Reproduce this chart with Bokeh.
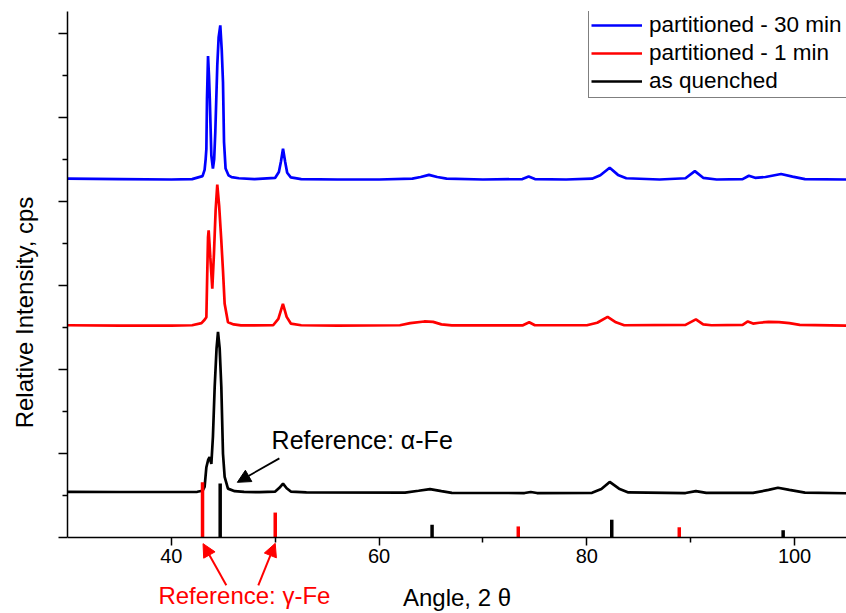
from bokeh.plotting import figure
from bokeh.models import Range1d, FixedTicker, Label, Arrow, NormalHead, LinearAxis
from bokeh.embed import file_html
from bokeh.resources import INLINE

# ---------------- data ----------------
blue_x = [30, 35, 40, 42, 43.0, 43.2, 43.3, 43.37, 43.43, 43.53, 43.62, 43.7, 43.85, 44.0,
          44.12, 44.23, 44.42, 44.55, 44.71, 44.85, 44.97, 45.07, 45.22, 45.5, 45.8, 46.5,
          48, 50.0, 50.35, 50.55, 50.75, 50.95, 51.15, 51.5, 52.5, 56, 60, 63.2, 64.0, 64.8,
          65.6, 66.5, 70, 73.8, 74.4, 75.0, 78, 80.5, 81.3, 82.2, 83.0, 83.8, 87, 89.5, 90.4,
          91.2, 92.5, 95, 95.6, 96.2, 97.2, 98.7, 99.8, 101, 105]
blue_y = [8540, 8530, 8520, 8530, 8600, 8750, 9000, 9250, 10440, 11460, 11000, 10440, 9090, 8780,
          9000, 9650, 11230, 11900, 12190, 11600, 10840, 9410, 8780, 8620, 8575, 8550,
          8530, 8560, 8700, 8950, 9250, 8950, 8680, 8570, 8530, 8520, 8520, 8540, 8580, 8630,
          8580, 8540, 8520, 8530, 8590, 8530, 8520, 8540, 8620, 8800, 8630, 8550, 8520, 8550, 8720,
          8560, 8520, 8530, 8610, 8560, 8580, 8650, 8590, 8530, 8520]

red_x = [30, 35, 40, 42, 42.9, 43.2, 43.37, 43.46, 43.53, 43.59, 43.67, 43.75, 43.94, 44.1,
         44.26, 44.42, 44.6, 44.8, 44.97, 45.13, 45.45, 46, 46.7, 49.8, 50.3, 50.74, 51.1, 51.5,
         52.5, 56, 62.0, 63, 64.35, 65.2, 66.0, 67, 73.8, 74.45, 75, 80, 81, 82.0, 82.8, 83.6,
         89.5, 90.5, 91.2, 92, 95, 95.5, 96.0, 96.6, 97.5, 98.5, 99.5, 100.5, 105]
red_y = [5050, 5040, 5040, 5050, 5100, 5180, 5240, 6350, 7150, 7310, 7000, 6670, 5920, 6750,
         7780, 8400, 7900, 7100, 6350, 5560, 5120, 5070, 5045, 5050, 5200, 5560, 5250, 5090,
         5050, 5040, 5050, 5100, 5140, 5130, 5070, 5045, 5045, 5120, 5050, 5050, 5110, 5250, 5120, 5050,
         5060, 5190, 5070, 5050, 5060, 5140, 5090, 5110, 5130, 5125, 5100, 5060, 5040]

black_x = [30, 35, 40, 42.5, 43.0, 43.2, 43.37, 43.55, 43.68, 43.85, 44.0, 44.17, 44.35, 44.49,
           44.65, 44.81, 44.97, 45.13, 45.45, 46.1, 47, 48.5, 50.0, 50.4, 50.75, 51.1, 51.5, 53,
           62.5, 63.8, 64.9, 66.0, 67, 74, 74.6, 75.2, 80.5, 81.4, 82.2, 83.1, 84, 89.5, 90.5,
           91.5, 96, 97.5, 98.4, 99.5, 101, 105]
black_y = [1085, 1080, 1080, 1085, 1110, 1200, 1670, 1850, 1910, 1750, 2390, 3580, 4500, 4890,
           4500, 3580, 1990, 1440, 1160, 1100, 1085, 1075, 1090, 1180, 1280, 1170, 1090, 1070,
           1065, 1110, 1150, 1100, 1060, 1055, 1080, 1055, 1060, 1150, 1320, 1160, 1070, 1055, 1100,
           1060, 1060, 1130, 1180, 1130, 1065, 1050]

alpha_pos = [44.7, 65.1, 82.4, 98.9]
alpha_height = [1285, 300, 420, 170]
gamma_pos = [43.0, 50.0, 73.4, 88.9]
gamma_height = [1310, 590, 260, 240]

x_major = [40, 60, 80, 100]
x_minor = [50, 70, 90]
y_major = [0, 2000, 4000, 6000, 8000, 10000, 12000]
y_minor = [1000, 3000, 5000, 7000, 9000, 11000]
y_top = 12520

series_labels = ["partitioned - 30 min", "partitioned - 1 min", "as quenched"]

# ---------------- figure ----------------
FONT = "Liberation Sans"
p = figure(width=846, height=613, output_backend="svg", toolbar_location=None,
           x_range=Range1d(30, 105), y_range=Range1d(-1813, y_top),
           x_axis_location=None,
           min_border_left=67, min_border_right=0, min_border_top=11, min_border_bottom=0)
p.outline_line_color = None
p.grid.visible = False
p.background_fill_color = "white"
p.border_fill_color = "white"

lw = 2.7
p.line(blue_x, blue_y, line_color="#0000ff", line_width=lw, legend_label=series_labels[0])
p.line(red_x, red_y, line_color="#ff0000", line_width=lw, legend_label=series_labels[1])
p.line(black_x, black_y, line_color="black", line_width=lw, legend_label=series_labels[2])

p.segment(x0=gamma_pos, y0=[0] * len(gamma_pos), x1=gamma_pos, y1=gamma_height,
          line_color="#ff0000", line_width=3.5, line_cap="butt")
p.segment(x0=alpha_pos, y0=[0] * len(alpha_pos), x1=alpha_pos, y1=alpha_height,
          line_color="black", line_width=3.5, line_cap="butt")

# x axis drawn at y = 0
xax = LinearAxis(fixed_location=0)
p.add_layout(xax, "below")

for ax in (xax, p.yaxis[0]):
    ax.axis_line_width = 1.5
    ax.major_tick_line_width = 1.5
    ax.minor_tick_line_width = 1.5
    ax.axis_line_color = "black"
    ax.major_tick_line_color = "black"
    ax.minor_tick_line_color = "black"
    ax.major_tick_in = 0
    ax.minor_tick_in = 0
    ax.axis_label_text_font = FONT
    ax.axis_label_text_font_size = "24px"
    ax.axis_label_text_font_style = "normal"
    ax.axis_label_text_color = "black"
    ax.major_label_text_font = FONT
    ax.major_label_text_color = "black"

xax.ticker = FixedTicker(ticks=x_major, minor_ticks=x_minor)
xax.major_tick_out = 8
xax.minor_tick_out = 5
xax.major_label_text_font_size = "20px"
xax.major_label_standoff = 4
xax.axis_label = "Angle, 2 \u03b8"
xax.axis_label_standoff = 17

yax = p.yaxis[0]
yax.bounds = (0, y_top)
yax.ticker = FixedTicker(ticks=y_major, minor_ticks=y_minor)
yax.major_tick_out = 9
yax.minor_tick_out = 5
yax.major_label_text_font_size = "0px"
yax.major_label_standoff = 0
yax.axis_label = "Relative Intensity, cps"
yax.axis_label_standoff = 21

# legend
lg = p.legend[0]
lg.location = (521, 515)
lg.margin = 0
lg.padding = 2
lg.spacing = 0
lg.glyph_width = 51
lg.glyph_height = 28
lg.label_height = 28
lg.label_width = 215
lg.label_standoff = 7
lg.label_text_font = FONT
lg.label_text_font_size = "22.5px"
lg.label_text_color = "black"
lg.border_line_color = "black"
lg.border_line_width = 1.5
lg.background_fill_color = "white"
lg.background_fill_alpha = 1.0

# annotations
p.add_layout(Label(x=49.65, y=2309, text="Reference: \u03b1-Fe", text_font=FONT,
                   text_font_size="25px", text_color="black", text_baseline="alphabetic"))
p.add_layout(Arrow(x_start=50.4, y_start=1880, x_end=46.35, y_end=1310,
                   line_color="black", line_width=1.8,
                   end=NormalHead(size=13, fill_color="black", line_color="black")))

p.add_layout(Label(x=38.75, y=-1381, text="Reference: \u03b3-Fe", text_font=FONT,
                   text_font_size="24px", text_color="#ff0000", text_baseline="alphabetic"))
p.add_layout(Arrow(x_start=45.29, y_start=-1143, x_end=43.05, y_end=-150,
                   line_color="#ff0000", line_width=2,
                   end=NormalHead(size=13, fill_color="#ff0000", line_color="#ff0000")))
p.add_layout(Arrow(x_start=48.37, y_start=-1143, x_end=50.0, y_end=-143,
                   line_color="#ff0000", line_width=2,
                   end=NormalHead(size=13, fill_color="#ff0000", line_color="#ff0000")))

open("out.html", "w").write(file_html(p, INLINE))
